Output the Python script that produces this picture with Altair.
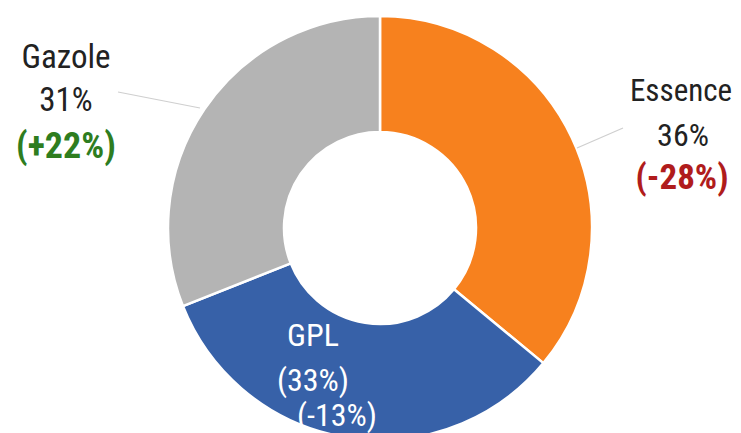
import altair as alt
import pandas as pd

categories = ["Essence", "GPL", "Gazole"]
shares = [36, 33, 31]
changes = ["(-28%)", "(-13%)", "(+22%)"]
colors = ["#F7811E", "#3761A8", "#B4B4B4"]

df = pd.DataFrame({"cat": categories, "share": shares, "order": [0, 1, 2]})

CX, CY = 372, 220
FONT = "Liberation Sans Narrow, Roboto Condensed, Roboto"

donut = alt.Chart(df).mark_arc(
    innerRadius=96, outerRadius=212, stroke="white", strokeWidth=2.5
).encode(
    theta=alt.Theta("share:Q", stack=True),
    order=alt.Order("order:Q"),
    color=alt.Color("cat:N", scale=alt.Scale(domain=categories, range=colors), legend=None),
    x=alt.value(CX),
    y=alt.value(CY),
)

base = alt.Chart(pd.DataFrame({"d": [0]}))

def txt(s, x, y, color="#222222", size=33, weight="normal"):
    return base.mark_text(
        text=s, font=FONT, fontSize=size, fontWeight=weight, color=color,
        align="center", baseline="middle"
    ).encode(x=alt.value(x), y=alt.value(y))

def rule(x1, y1, x2, y2):
    return base.mark_rule(color="#CFCFCF", strokeWidth=1.2).encode(
        x=alt.value(x1), y=alt.value(y1), x2=alt.value(x2), y2=alt.value(y2)
    )

layers = [
    donut,
    rule(110, 84, 192, 100),
    rule(569, 140, 615, 120),
    txt(categories[2], 58, 50),
    txt(f"{shares[2]}%", 58, 93),
    txt(changes[2], 58, 139, color="#2E7D1F", size=36, weight="bold"),
    txt(categories[0], 673, 84, size=31),
    txt(f"{shares[0]}%", 675, 128, size=32),
    txt(changes[0], 674, 170, color="#B01C1C", size=35, weight="bold"),
    txt(categories[1], 305, 328, color="white", size=32),
    txt(f"({shares[1]}%)", 305, 373, color="white", size=32),
    txt(changes[1], 329, 408, color="white", size=32),
]

chart = alt.layer(*layers).properties(
    width=725, height=425, padding=0,
    autosize=alt.AutoSizeParams(type="none"),
).configure_view(strokeWidth=0)

chart.save("out.html", embed_options={"renderer": "svg", "actions": False})
